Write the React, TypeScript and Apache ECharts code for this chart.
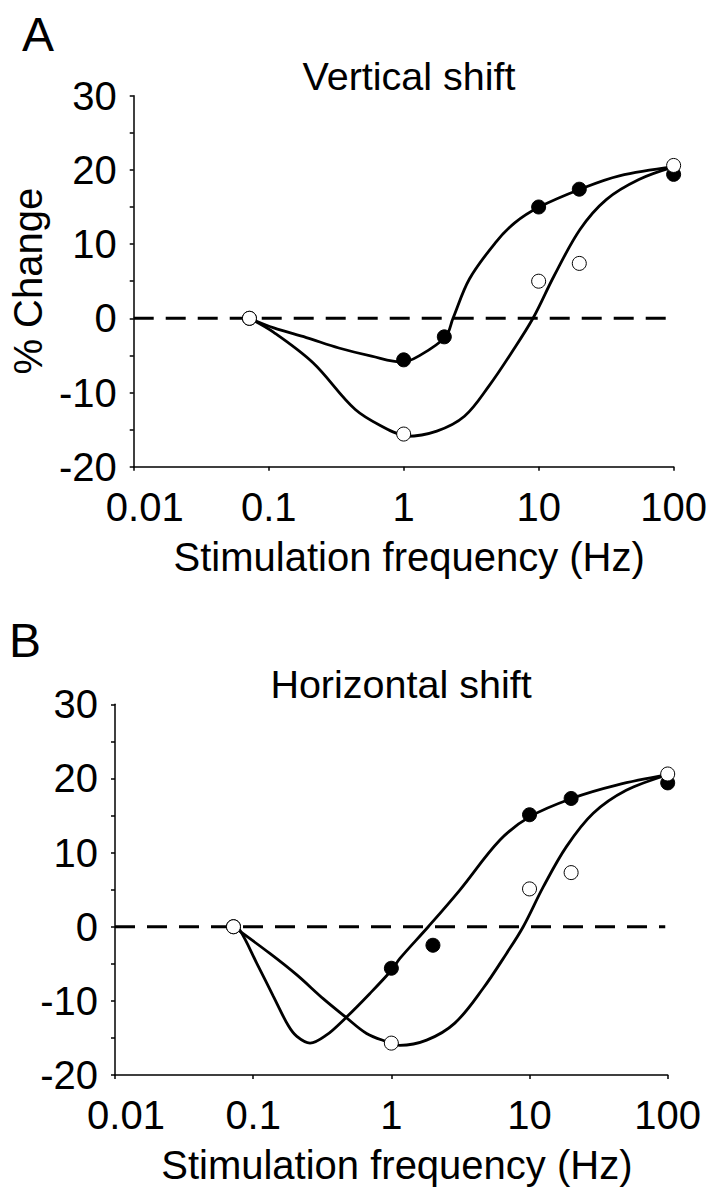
import React, { useEffect, useRef } from "react";
import * as echarts from "echarts";

const FONT = '"Liberation Sans", Arial, Helvetica, sans-serif';

// Tick labels
const FREQ_TICKS = ["0.01", "0.1", "1", "10", "100"];

// Measured points (both panels)
const filledX = [0.072, 1, 2, 10, 20, 100];
const filledTopY = [0, -5.6, -2.5, 15.0, 17.4, 19.4];
const filledBotY = [0, -5.6, -2.5, 15.1, 17.3, 19.4];
const openX = [0.072, 1, 10, 20, 100];
const openTopY = [0, -15.6, 5.0, 7.4, 20.6];
const openBotY = [0, -15.7, 5.1, 7.3, 20.6];

// Model fits, panel A (vertical shift)
const topFitFilledX = [0.072, 0.109, 0.19, 0.331, 0.578, 0.98, 1.29, 2.04, 2.32, 3.07, 4.79, 6.68, 10.1, 20.3, 39.6, 100];
const topFitFilledY = [0, -1.3, -2.6, -4.0, -5.1, -5.9, -5.1, -2.5, 0, 5.3, 10.2, 12.9, 15.0, 17.4, 19.2, 20.4];
const topFitOpenX = [0.072, 0.109, 0.213, 0.438, 0.764, 0.98, 1.05, 1.76, 2.82, 4.29, 6.31, 9.08, 13.0, 20.3, 31.7, 55.3, 100];
const topFitOpenY = [0, -1.9, -6.0, -12.3, -15.0, -15.8, -15.9, -15.2, -13.2, -9.1, -4.6, 0, 5.7, 12.0, 16.0, 18.7, 20.4];

// Model fits, panel B (horizontal shift)
const botFitFilledX = [0.072, 0.08, 0.106, 0.14, 0.179, 0.207, 0.258, 0.34, 0.461, 0.7, 1.02, 1.15, 1.85, 3.13, 6.11, 10.07, 20.2, 42.7, 100];
const botFitFilledY = [0, -0.45, -4.9, -9.4, -13.3, -14.8, -15.7, -14.6, -12.4, -9.0, -5.7, -4.3, 0, 4.95, 11.7, 14.85, 17.3, 19.1, 20.5];
const botFitOpenX = [0.072, 0.132, 0.207, 0.321, 0.461, 0.662, 0.925, 1.15, 1.8, 2.88, 4.62, 6.82, 9.0, 12.6, 18.5, 28.9, 50.1, 100];
const botFitOpenY = [0, -3.6, -6.5, -9.7, -12.1, -14.4, -15.5, -16.0, -15.3, -13.0, -8.3, -3.6, 0, 5.4, 10.8, 15.3, 18.4, 20.5];

// Zero reference line
const zeroX = [0.01, 96];
const zeroY = [0, 0];

const zip = (xs: number[], ys: number[]) => xs.map((x, i) => [x, ys[i]]);

function makeXAxis(gridIndex: number) {
  return {
    type: "log",
    logBase: 10,
    min: 0.01,
    max: 100,
    splitNumber: 4,
    gridIndex,
    axisLine: { show: true, onZero: false, lineStyle: { color: "#000", width: 1.5 } },
    axisTick: { show: true, length: 4, lineStyle: { color: "#000", width: 1.5 } },
    minorTick: { show: false },
    splitLine: { show: false },
    axisLabel: {
      color: "#000",
      fontFamily: FONT,
      fontSize: 40,
      lineHeight: 40,
      margin: 20,
      formatter: (v: number) => {
        const i = Math.round(Math.log10(v)) + 2;
        const s = FREQ_TICKS[i];
        return i === 0 ? `{first|${s}}` : s;
      },
      rich: {
        first: { fontFamily: FONT, fontSize: 40, lineHeight: 40, color: "#000", padding: [0, 0, 0, 22] },
      },
    },
    name: "Stimulation frequency (Hz)",
    nameLocation: "middle",
    nameGap: 70,
    nameTextStyle: { color: "#000", fontFamily: FONT, fontSize: 40, lineHeight: 40, padding: [0, 0, 0, 11] },
  };
}

function makeYAxis(gridIndex: number, name?: string) {
  const ax: any = {
    type: "value",
    min: -20,
    max: 30,
    interval: 10,
    gridIndex,
    axisLine: { show: true, onZero: false, lineStyle: { color: "#000", width: 1.5 } },
    axisTick: { show: true, length: 4, lineStyle: { color: "#000", width: 1.5 } },
    minorTick: { show: true, splitNumber: 2, length: 4, lineStyle: { color: "#000", width: 1.5 } },
    splitLine: { show: false },
    minorSplitLine: { show: false },
    axisLabel: { color: "#000", fontFamily: FONT, fontSize: 40, margin: 17, padding: [8, 0, 0, 0] },
  };
  if (name) {
    ax.name = name;
    ax.nameLocation = "middle";
    ax.nameRotate = 90;
    ax.nameGap = 76;
    ax.nameTextStyle = { color: "#000", fontFamily: FONT, fontSize: 40, lineHeight: 40 };
  }
  return ax;
}

function panelSeries(idx: number, fitF: number[][], fitO: number[][], fY: number[], oY: number[]) {
  const base = { xAxisIndex: idx, yAxisIndex: idx };
  return [
    {
      ...base,
      type: "line",
      data: zip(zeroX, zeroY),
      symbol: "none",
      lineStyle: { color: "#000", width: 3, type: [20, 12] },
      z: 1,
      silent: true,
    },
    {
      ...base,
      type: "line",
      data: fitF,
      symbol: "none",
      smooth: 0.35,
      lineStyle: { color: "#000", width: 2.8 },
      z: 2,
    },
    {
      ...base,
      type: "line",
      data: fitO,
      symbol: "none",
      smooth: 0.35,
      lineStyle: { color: "#000", width: 2.8 },
      z: 2,
    },
    {
      ...base,
      type: "scatter",
      data: zip(filledX, fY),
      symbol: "circle",
      symbolSize: 14,
      itemStyle: { color: "#000", borderColor: "#000", borderWidth: 1, opacity: 1 },
      z: 3,
    },
    {
      ...base,
      type: "scatter",
      data: zip(openX, oY),
      symbol: "circle",
      symbolSize: 14,
      itemStyle: { color: "#fff", borderColor: "#000", borderWidth: 1, opacity: 1 },
      z: 4,
    },
  ];
}

function txt(text: string, x: number, y: number, size: number, align: string) {
  return {
    type: "text",
    x,
    y,
    style: {
      text,
      font: `${size}px ${FONT}`,
      fill: "#000",
      align,
      verticalAlign: "middle",
      textAlign: align,
      textVerticalAlign: "middle",
    },
  };
}

export default function App() {
  const ref = useRef<HTMLDivElement>(null);
  useEffect(() => {
    if (!ref.current) return;
    const chart = echarts.init(ref.current, undefined, { renderer: "svg", width: 710, height: 1200 });
    chart.setOption({
      animation: false,
      backgroundColor: "#fff",
      grid: [
        { left: 123.5, top: 95.7, width: 552.5, height: 371, containLabel: false },
        { left: 115, top: 704.3, width: 552.7, height: 370.7, containLabel: false },
      ],
      xAxis: [makeXAxis(0), makeXAxis(1)],
      yAxis: [makeYAxis(0, "% Change"), makeYAxis(1)],
      series: [
        ...panelSeries(0, zip(topFitFilledX, topFitFilledY), zip(topFitOpenX, topFitOpenY), filledTopY, openTopY),
        ...panelSeries(1, zip(botFitFilledX, botFitFilledY), zip(botFitOpenX, botFitOpenY), filledBotY, openBotY),
      ],
      graphic: [
        txt("A", 22, 34, 48, "left"),
        txt("Vertical shift", 409, 76, 39.5, "center"),
        txt("B", 9, 640, 48, "left"),
        txt("Horizontal shift", 401, 684, 39.5, "center"),
      ],
    });
    return () => chart.dispose();
  }, []);
  return <div ref={ref} style={{ position: "absolute", left: 0, top: 0, width: 710, height: 1200 }} />;
}
